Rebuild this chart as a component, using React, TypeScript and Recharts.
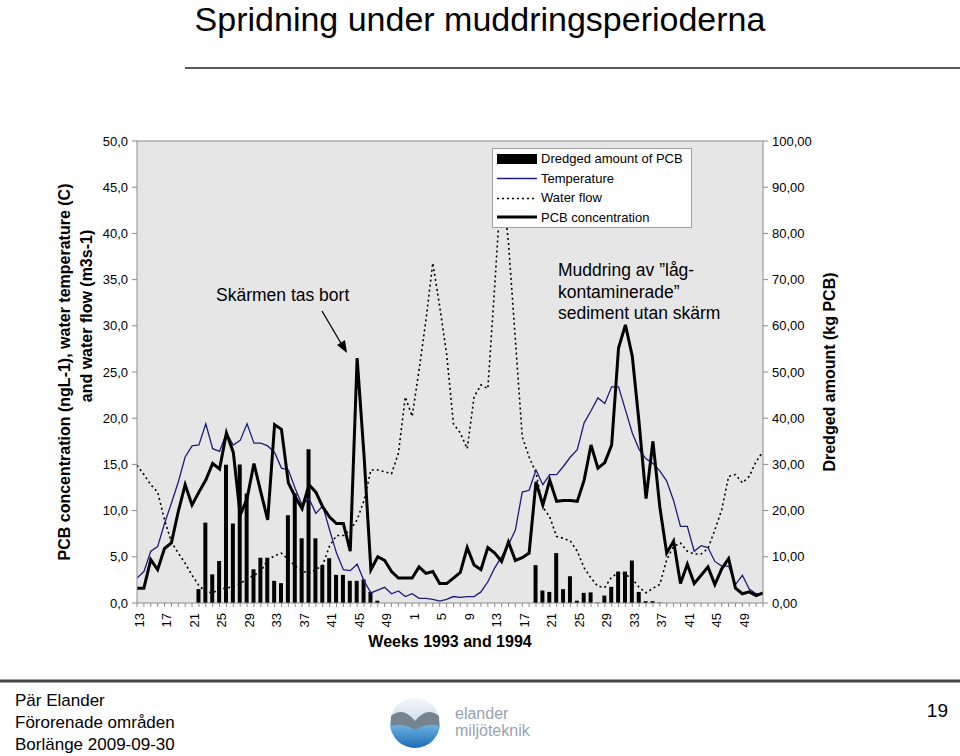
import React from "react";
import {
  ComposedChart,
  Bar,
  Line,
  XAxis,
  YAxis,
  CartesianGrid,
  ReferenceLine,
  Legend,
} from "recharts";

// weeks 13-52 of 1993, then 1-52 of 1994
const WEEKS = [
  13, 14, 15, 16, 17, 18, 19, 20, 21, 22, 23, 24, 25, 26, 27, 28, 29, 30, 31, 32,
  33, 34, 35, 36, 37, 38, 39, 40, 41, 42, 43, 44, 45, 46, 47, 48, 49, 50, 51, 52,
  1, 2, 3, 4, 5, 6, 7, 8, 9, 10, 11, 12, 13, 14, 15, 16, 17, 18, 19, 20,
  21, 22, 23, 24, 25, 26, 27, 28, 29, 30, 31, 32, 33, 34, 35, 36, 37, 38, 39, 40,
  41, 42, 43, 44, 45, 46, 47, 48, 49, 50, 51, 52,
];

// kg PCB (right axis)
const DREDGED = [
  0, 0, 0, 0, 0, 0, 0, 0, 0, 3.0,
  17.4, 6.2, 9.1, 29.9, 17.2, 30.0, 23.7, 7.3, 9.8, 9.8,
  4.8, 4.3, 19.0, 23.7, 14.0, 33.3, 14.0, 8.2, 9.7, 6.1,
  6.1, 4.8, 4.8, 5.1, 2.4, 0.5, 0, 0, 0, 0,
  0, 0, 0, 0, 0, 0, 0, 0, 0, 0,
  0, 0, 0, 0, 0, 0, 0, 0, 8.2, 2.7,
  2.4, 10.8, 3.0, 5.8, 0.5, 2.2, 2.3, 0.1, 1.6, 3.5,
  6.8, 6.8, 9.2, 2.4, 0.4, 0.4, 0.1, 0, 0, 0,
  0, 0, 0, 0, 0, 0, 0, 0, 0, 0,
  0, 0,
];

const TEMPERATURE = [
  2.7, 3.4, 5.6, 6.1, 8.6, 10.8, 13.1, 15.8, 17.0, 17.1,
  19.4, 16.7, 16.4, 18.4, 17.1, 17.6, 19.4, 17.3, 17.3, 17.0,
  16.3, 14.6, 14.4, 12.4, 10.6, 11.3, 9.7, 10.5, 7.9, 5.4,
  3.6, 3.5, 4.2, 2.4, 1.1, 1.4, 1.7, 1.0, 1.3, 0.7,
  1.0, 0.5, 0.5, 0.4, 0.2, 0.4, 0.7, 0.6, 0.7, 0.7,
  1.2, 2.3, 3.8, 5.0, 6.3, 7.9, 12.0, 12.2, 14.4, 12.8,
  13.9, 13.9, 14.8, 15.8, 16.6, 19.5, 20.8, 22.2, 21.6, 23.4,
  23.4, 20.9, 18.4, 16.6, 15.6, 15.1, 14.3, 13.2, 11.1, 8.3,
  8.3, 5.6, 6.2, 6.0, 4.5, 4.0, 4.0, 2.0, 3.0, 1.5,
  1.0, 1.0,
];

const WATER_FLOW = [
  14.9, 13.9, 12.8, 12.0, 9.0, 6.6, 5.4, 4.3, 3.0, 1.9,
  1.2, 1.1, 1.5, 1.6, 1.8, 2.1, 2.6, 3.0, 3.4, 4.7,
  5.1, 5.4, 4.7, 4.0, 3.5, 3.2, 3.6, 4.1, 6.2, 7.3,
  7.3, 7.9, 9.0, 11.1, 14.4, 14.4, 14.2, 14.0, 16.2, 22.3,
  20.2, 25.2, 30.6, 36.8, 32.1, 27.0, 19.4, 18.4, 16.7, 22.3,
  23.6, 23.2, 34.3, 46.0, 39.0, 28.5, 18.0, 15.8, 14.1, 10.4,
  9.3, 7.2, 7.0, 6.7, 5.6, 3.8, 2.7, 1.8, 1.7, 2.8,
  3.3, 3.1, 2.6, 1.7, 1.1, 1.6, 2.0, 4.7, 6.1, 6.5,
  5.6, 5.3, 5.3, 5.9, 7.9, 10.1, 13.7, 13.9, 13.0, 13.7,
  15.3, 16.4,
];

const PCB = [
  1.6, 1.6, 4.7, 3.6, 5.9, 6.5, 9.9, 12.8, 10.6, 12.0,
  13.3, 15.1, 14.5, 18.4, 16.3, 9.5, 11.3, 15.1, 12.0, 9.0,
  19.3, 18.8, 13.0, 11.5, 10.2, 12.8, 12.0, 10.4, 9.3, 8.6,
  8.6, 5.6, 26.5, 16.0, 3.6, 5.0, 4.6, 3.4, 2.7, 2.7,
  2.7, 3.9, 3.2, 3.4, 2.1, 2.1, 2.7, 3.3, 6.0, 4.1,
  3.6, 6.0, 5.4, 4.5, 6.6, 4.6, 4.9, 5.4, 13.1, 10.6,
  13.3, 11.0, 11.1, 11.1, 11.0, 13.3, 17.1, 14.6, 15.2, 17.1,
  27.6, 30.1, 26.7, 19.4, 11.3, 17.5, 10.4, 5.4, 6.7, 2.1,
  4.2, 2.1, 3.0, 3.9, 2.0, 3.7, 4.8, 1.6, 1.0, 1.2,
  0.8, 1.1,
];

const LEFT_TICKS = [0, 5, 10, 15, 20, 25, 30, 35, 40, 45, 50];
const RIGHT_TICKS = [0, 10, 20, 30, 40, 50, 60, 70, 80, 90, 100];

const LEGEND_ITEMS = [
  { key: "bar", label: "Dredged amount of PCB" },
  { key: "temp", label: "Temperature" },
  { key: "flow", label: "Water flow" },
  { key: "pcb", label: "PCB concentration" },
];

const AXIS_GREY = "#8c8c8c";
const FONT = "Arial, 'Liberation Sans', Helvetica, sans-serif";

const rows = WEEKS.map((week, i) => ({
  i,
  week,
  dredged: DREDGED[i],
  temp: TEMPERATURE[i],
  flow: WATER_FLOW[i],
  pcb: PCB[i],
}));

const tickIdx = WEEKS.map((_, i) => i);

function WeekTick(props: any) {
  const { x, y, payload } = props;
  const idx = payload.value;
  if (idx % 4 !== 0 || idx > 88) return null;
  const tx = x + 2;
  const ty = y + 4;
  return (
    <text
      x={tx}
      y={ty}
      transform={`rotate(-90 ${tx} ${ty})`}
      textAnchor="end"
      dominantBaseline="central"
      fontSize={13}
      fill="#000"
    >
      {WEEKS[idx]}
    </text>
  );
}

function Swatch({ kind }: { kind: string }) {
  return (
    <svg width={48} height={20} style={{ display: "block", flex: "none" }}>
      {kind === "bar" && <rect x={4} y={5} width={40} height={10} fill="#000" />}
      {kind === "temp" && <line x1={4} x2={44} y1={10.5} y2={10.5} stroke="#1c1c7c" strokeWidth={1.3} />}
      {kind === "flow" && (
        <line x1={4} x2={44} y1={10.5} y2={10.5} stroke="#000" strokeWidth={1.5} strokeDasharray="2 3" />
      )}
      {kind === "pcb" && <line x1={4} x2={44} y1={10} y2={10} stroke="#000" strokeWidth={3} />}
    </svg>
  );
}

function ChartLegend() {
  return (
    <div
      style={{
        width: 200,
        height: 80,
        boxSizing: "border-box",
        background: "#fff",
        border: "1px solid #a0a0a0",
        fontSize: 13,
        color: "#000",
        fontFamily: FONT,
      }}
    >
      {LEGEND_ITEMS.map((item) => (
        <div key={item.key} style={{ display: "flex", alignItems: "center", height: 19.5 }}>
          <Swatch kind={item.key} />
          <span style={{ whiteSpace: "nowrap" }}>{item.label}</span>
        </div>
      ))}
    </div>
  );
}

function Decorations() {
  return (
    <svg
      width={960}
      height={756}
      style={{ position: "absolute", left: 0, top: 0, pointerEvents: "none" }}
      fontFamily={FONT}
    >
      <defs>
        <linearGradient id="logoFill" x1="0" y1="0" x2="0" y2="1">
          <stop offset="0" stopColor="#f3f6f9" />
          <stop offset="0.45" stopColor="#d3e1ec" />
          <stop offset="0.55" stopColor="#6aaee0" />
          <stop offset="1" stopColor="#1d6db3" />
        </linearGradient>
      </defs>

      {/* title */}
      <text x={480} y={31} textAnchor="middle" fontSize={34} fill="#000">
        Spridning under muddringsperioderna
      </text>
      <line x1={185} x2={960} y1={68} y2={68} stroke="#5a5a5a" strokeWidth={2} />

      {/* axis titles */}
      <text
        x={70}
        y={372}
        transform="rotate(-90 70 372)"
        textAnchor="middle"
        fontSize={16}
        fontWeight="bold"
      >
        PCB concentration (ngL-1), water temperature (C)
      </text>
      <text
        x={92}
        y={316}
        transform="rotate(-90 92 316)"
        textAnchor="middle"
        fontSize={16}
        fontWeight="bold"
      >
        and water flow (m3s-1)
      </text>
      <text
        x={835}
        y={372}
        transform="rotate(-90 835 372)"
        textAnchor="middle"
        fontSize={16}
        fontWeight="bold"
      >
        Dredged amount (kg PCB)
      </text>
      <text x={450} y={647} textAnchor="middle" fontSize={16} fontWeight="bold">
        Weeks 1993 and 1994
      </text>

      {/* annotations */}
      <text x={216} y={301} fontSize={17.5}>Skärmen tas bort</text>
      <line x1={322} y1={311} x2={342} y2={345} stroke="#000" strokeWidth={1.3} />
      <polygon points="347,353 337,345 345,340" fill="#000" />
      <text x={558} y={276} fontSize={17.5}>Muddring av ”låg-</text>
      <text x={558} y={297.5} fontSize={17.5}>kontaminerade”</text>
      <text x={558} y={319} fontSize={17.5}>sediment utan skärm</text>

      {/* footer */}
      <line x1={0} x2={960} y1={681} y2={681} stroke="#444" strokeWidth={3} />
      <text x={15} y={706} fontSize={17}>Pär Elander</text>
      <text x={15} y={728} fontSize={17}>Förorenade områden</text>
      <text x={15} y={750} fontSize={17}>Borlänge 2009-09-30</text>
      <text x={948} y={717} textAnchor="end" fontSize={19}>19</text>

      <circle cx={415} cy={723} r={25} fill="url(#logoFill)" />
      <path
        d="M391,716 Q403,706 415,721 Q427,706 439,716 L439,726 Q427,722 415,730 Q403,722 391,726 Z"
        fill="#77838e"
      />
      <text x={455} y={719} fontSize={16} fill="#97a3ad">elander</text>
      <text x={455} y={736} fontSize={16} fill="#97a3ad">miljöteknik</text>
    </svg>
  );
}

export default function App() {
  return (
    <div
      style={{
        position: "relative",
        width: 960,
        height: 756,
        background: "#fff",
        fontFamily: FONT,
        overflow: "hidden",
      }}
    >
      <style>{"body{margin:0}"}</style>
      <ComposedChart
        width={960}
        height={756}
        data={rows}
        margin={{ top: 141, right: 137, bottom: 123, left: 87 }}
      >
        <CartesianGrid
          horizontal={false}
          vertical={false}
          fill="#e6e6e6"
          stroke="none"
          yAxisId="left"
        />
        <XAxis
          dataKey="i"
          type="number"
          domain={[0, 91]}
          ticks={tickIdx}
          interval={0}
          height={30}
          stroke={AXIS_GREY}
          tickSize={4}
          tick={<WeekTick />}
          allowDataOverflow
        />
        <YAxis
          yAxisId="left"
          orientation="left"
          domain={[0, 50]}
          ticks={LEFT_TICKS}
          width={50}
          stroke={AXIS_GREY}
          tickSize={5}
          tickMargin={4}
          tick={{ fill: "#000", fontSize: 13 }}
          tickFormatter={(v: number) => v.toFixed(1).replace(".", ",")}
          interval={0}
        />
        <YAxis
          yAxisId="right"
          orientation="right"
          domain={[0, 100]}
          ticks={RIGHT_TICKS}
          width={60}
          stroke={AXIS_GREY}
          tickSize={5}
          tickMargin={4}
          tick={{ fill: "#000", fontSize: 13 }}
          tickFormatter={(v: number) => v.toFixed(2).replace(".", ",")}
          interval={0}
        />
        <ReferenceLine yAxisId="left" y={50} stroke={AXIS_GREY} />
        <Bar
          yAxisId="right"
          dataKey="dredged"
          fill="#000"
          barSize={4}
          isAnimationActive={false}
        />
        <Line
          yAxisId="left"
          type="linear"
          dataKey="flow"
          stroke="#000"
          strokeWidth={1.6}
          strokeDasharray="2 3"
          dot={false}
          activeDot={false}
          isAnimationActive={false}
        />
        <Line
          yAxisId="left"
          type="linear"
          dataKey="temp"
          stroke="#1c1c7c"
          strokeWidth={1.3}
          dot={false}
          activeDot={false}
          isAnimationActive={false}
        />
        <Line
          yAxisId="left"
          type="linear"
          dataKey="pcb"
          stroke="#000"
          strokeWidth={3}
          dot={false}
          activeDot={false}
          isAnimationActive={false}
        />
        <Legend
          content={<ChartLegend />}
          layout="vertical"
          align="center"
          verticalAlign="middle"
          wrapperStyle={{ left: 492, top: 148, width: 200, height: 80 }}
        />
      </ComposedChart>
      <Decorations />
    </div>
  );
}
